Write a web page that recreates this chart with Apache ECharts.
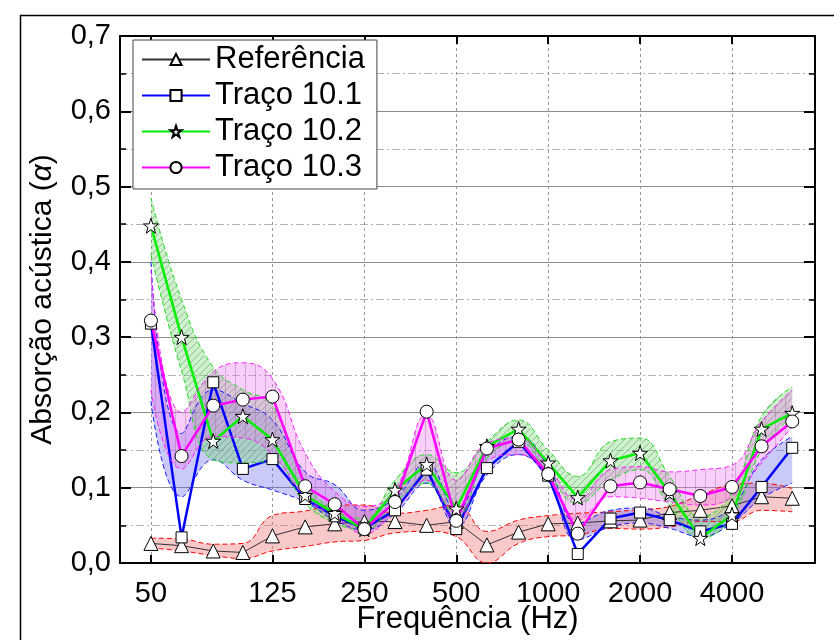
<!DOCTYPE html>
<html>
<head>
<meta charset="utf-8">
<script src="https://cdn.jsdelivr.net/npm/echarts@6/dist/echarts.min.js"></script>
<style>
  html, body { margin: 0; padding: 0; background: #fff; }
  #chart { width: 834px; height: 640px; }
</style>
</head>
<body>
<div id="chart"></div>
<script>
// Third-octave band centre frequencies (Hz)
const freqs = [50, 63, 80, 100, 125, 160, 200, 250, 315, 400, 500, 630, 800, 1000, 1250, 1600, 2000, 2500, 3150, 4000, 5000, 6300];
const tickFreqs = [50, 125, 250, 500, 1000, 2000, 4000];

// Absorption coefficient, mean per band
const refVals = [0.026, 0.023, 0.016, 0.014, 0.036, 0.048, 0.052, 0.055, 0.055, 0.050, 0.055, 0.024, 0.041, 0.052, 0.053, 0.056, 0.057, 0.067, 0.070, 0.076, 0.088, 0.086];
const t101Vals = [0.318, 0.034, 0.240, 0.125, 0.138, 0.085, 0.062, 0.046, 0.070, 0.124, 0.045, 0.126, 0.161, 0.116, 0.012, 0.059, 0.067, 0.057, 0.042, 0.052, 0.101, 0.153];
const t102Vals = [0.448, 0.300, 0.162, 0.195, 0.164, 0.090, 0.066, 0.045, 0.097, 0.131, 0.072, 0.155, 0.178, 0.133, 0.087, 0.136, 0.146, 0.093, 0.033, 0.064, 0.178, 0.199];
const t103Vals = [0.322, 0.142, 0.209, 0.217, 0.221, 0.102, 0.078, 0.045, 0.081, 0.201, 0.056, 0.152, 0.164, 0.118, 0.039, 0.102, 0.107, 0.098, 0.089, 0.101, 0.155, 0.188];

// Dispersion bands (lower / upper bound per band)
const refLow  = [0.020, 0.016, 0.010, 0.006, 0.016, 0.022, 0.028, 0.030, 0.040, 0.042, 0.035, 0.000, 0.026, 0.035, 0.037, 0.046, 0.045, 0.048, 0.055, 0.055, 0.070, 0.068];
const refUp   = [0.033, 0.032, 0.025, 0.026, 0.063, 0.069, 0.077, 0.077, 0.066, 0.070, 0.077, 0.042, 0.057, 0.063, 0.066, 0.068, 0.071, 0.075, 0.090, 0.104, 0.106, 0.099];
const t101Low = [0.215, 0.088, 0.137, 0.110, 0.097, 0.081, 0.057, 0.044, 0.066, 0.106, 0.048, 0.117, 0.144, 0.110, 0.031, 0.048, 0.053, 0.046, 0.035, 0.053, 0.086, 0.106];
const t101Up  = [0.400, 0.172, 0.230, 0.212, 0.190, 0.121, 0.104, 0.070, 0.086, 0.133, 0.070, 0.144, 0.168, 0.128, 0.053, 0.070, 0.073, 0.062, 0.057, 0.075, 0.137, 0.168];
const t102Low = [0.410, 0.255, 0.137, 0.133, 0.135, 0.079, 0.053, 0.044, 0.081, 0.106, 0.062, 0.139, 0.161, 0.119, 0.079, 0.110, 0.124, 0.075, 0.033, 0.062, 0.150, 0.195];
const t102Up  = [0.485, 0.350, 0.260, 0.230, 0.210, 0.108, 0.070, 0.059, 0.110, 0.144, 0.120, 0.161, 0.190, 0.150, 0.115, 0.161, 0.166, 0.115, 0.062, 0.093, 0.195, 0.234];
const t103Low = [0.230, 0.125, 0.168, 0.166, 0.144, 0.088, 0.062, 0.039, 0.070, 0.110, 0.055, 0.135, 0.144, 0.113, 0.057, 0.088, 0.086, 0.081, 0.077, 0.088, 0.133, 0.181];
const t103Up  = [0.390, 0.200, 0.254, 0.266, 0.245, 0.146, 0.095, 0.075, 0.097, 0.197, 0.110, 0.159, 0.166, 0.128, 0.084, 0.124, 0.128, 0.121, 0.124, 0.130, 0.188, 0.230];

const FONT = 'Liberation Sans, Arial, sans-serif';
const X_MIN = 39.6, X_MAX = 7480;

// Small repeating fill tiles for the hatched bands
function tile(bg, stroke, kind) {
  const c = document.createElement('canvas');
  const s = kind === 'vert' ? 10 : 7;
  c.width = s; c.height = s;
  const g = c.getContext('2d');
  g.fillStyle = bg;
  g.fillRect(0, 0, s, s);
  if (kind) {
    g.strokeStyle = stroke;
    g.lineWidth = 1;
    g.beginPath();
    if (kind === 'diag') {
      g.moveTo(0, s); g.lineTo(s, 0);
      g.moveTo(-1, 1); g.lineTo(1, -1);
      g.moveTo(s - 1, s + 1); g.lineTo(s + 1, s - 1);
    } else {
      g.moveTo(s / 2 + 0.5, 0); g.lineTo(s / 2 + 0.5, s);
    }
    g.stroke();
  }
  return { image: c, repeat: 'repeat' };
}

// Rows are [value, frequency] so the value column is the one that gets stacked
function rows(vals) { return freqs.map((f, i) => [vals[i], f]); }

function band(key, low, up, edge, fill) {
  const edgeStyle = { color: edge, type: [5, 3], width: 1 };
  return [
    {
      name: key + '-low', type: 'line', stack: key, stackStrategy: 'all',
      data: rows(low), encode: { x: 1, y: 0 },
      smooth: 0.45, symbol: 'none', silent: true, lineStyle: edgeStyle
    },
    {
      name: key + '-up', type: 'line', stack: key, stackStrategy: 'all',
      data: rows(up.map((u, i) => u - low[i])), encode: { x: 1, y: 0 },
      smooth: 0.45, symbol: 'none', silent: true, lineStyle: edgeStyle,
      areaStyle: { color: fill, opacity: 1 }
    }
  ];
}

function mainLine(name, vals, color, width, symbol, size) {
  return {
    name, type: 'line', data: rows(vals), encode: { x: 1, y: 0 },
    symbol, symbolSize: size, showAllSymbol: true,
    lineStyle: { color, width },
    itemStyle: { color: '#fff', borderColor: '#000', borderWidth: 1 }
  };
}

const STAR = 'path://M50,0 L61.8,35.3 L99,35.3 L69,57.2 L80.4,92.7 L50,70.8 L19.6,92.7 L31,57.2 L1,35.3 L38.2,35.3 Z';

const series = [].concat(
  band('ref', refLow, refUp, '#ff0000', 'rgba(240, 110, 110, 0.38)'),
  [mainLine('Referência', refVals, '#333333', 1, 'triangle', 14)],
  band('t101', t101Low, t101Up, '#1a1aff', 'rgba(90, 90, 240, 0.32)'),
  [mainLine('Traço 10.1', t101Vals, '#0000ff', 2.5, 'rect', 11)],
  band('t102', t102Low, t102Up, '#22dd22', tile('rgba(110, 220, 110, 0.36)', 'rgba(90, 110, 90, 0.45)', 'diag')),
  [mainLine('Traço 10.2', t102Vals, '#00ee00', 2.5, STAR, 15)],
  band('t103', t103Low, t103Up, '#ff22ff', tile('rgba(240, 110, 240, 0.34)', 'rgba(150, 110, 160, 0.40)', 'vert')),
  [mainLine('Traço 10.3', t103Vals, '#ff00ff', 2.5, 'circle', 13)]
);

const axisBlack = { show: true, onZero: false, lineStyle: { color: '#000', width: 2 } };

const option = {
  animation: false,
  backgroundColor: '#fff',
  grid: { left: 120, right: 19, top: 36, bottom: 77, containLabel: false, outerBoundsMode: 'none' },
  legend: {
    data: ['Referência', 'Traço 10.1', 'Traço 10.2', 'Traço 10.3'],
    orient: 'vertical', left: 133, top: 40,
    itemWidth: 68, itemHeight: 14, itemGap: 5,
    padding: [4, 12, 6, 8],
    backgroundColor: '#fff', borderColor: '#444', borderWidth: 1, borderRadius: 0,
    textStyle: { fontSize: 31, fontFamily: FONT, color: '#000' }
  },
  xAxis: [
    {
      type: 'log', logBase: 10, min: X_MIN, max: X_MAX, position: 'bottom',
      name: 'Frequência (Hz)', nameLocation: 'middle', nameGap: 41, nameMoveOverlap: false,
      nameTextStyle: { fontSize: 31, fontFamily: FONT, color: '#000' },
      axisLine: axisBlack,
      axisTick: { show: true, inside: true, length: 8, customValues: tickFreqs, lineStyle: { color: '#000', width: 2 } },
      axisLabel: { show: true, customValues: tickFreqs, margin: 16, fontSize: 29, fontFamily: FONT, color: '#000',
        formatter: v => String(Math.round(v)) },
      splitLine: { show: true, lineStyle: { color: '#9a9a9a', width: 1, type: [3, 3] } },
      minorTick: { show: false }, minorSplitLine: { show: false }
    },
    {
      type: 'log', logBase: 10, min: X_MIN, max: X_MAX, position: 'top',
      axisLine: axisBlack,
      axisTick: { show: true, inside: true, length: 8, customValues: tickFreqs, lineStyle: { color: '#000', width: 2 } },
      axisLabel: { show: false, customValues: tickFreqs },
      splitLine: { show: false }
    }
  ],
  yAxis: [
    {
      type: 'value', min: 0, max: 0.7, interval: 0.1, position: 'left',
      name: 'Absorção acústica ({it|α})', nameLocation: 'middle', nameGap: 62, nameMoveOverlap: false,
      nameTextStyle: { fontSize: 30, fontFamily: FONT, color: '#000',
        rich: { it: { fontSize: 30, fontFamily: FONT, fontStyle: 'italic', color: '#000' } } },
      axisLine: axisBlack,
      axisTick: { show: true, inside: true, length: 11, lineStyle: { color: '#000', width: 2 } },
      minorTick: { show: true, splitNumber: 2, length: 6, lineStyle: { color: '#000', width: 1.5 } },
      axisLabel: { margin: 9, fontSize: 29, fontFamily: FONT, color: '#000',
        formatter: v => v.toFixed(1).replace('.', ',') },
      splitLine: { show: true, lineStyle: { color: '#8c8c8c', width: 1.2, type: 'solid' } },
      minorSplitLine: { show: true, lineStyle: { color: '#b4b4b4', width: 1, type: [8, 3, 2, 3] } }
    },
    {
      type: 'value', min: 0, max: 0.7, interval: 0.1, position: 'right',
      axisLine: axisBlack,
      axisTick: { show: true, inside: true, length: 11, lineStyle: { color: '#000', width: 2 } },
      minorTick: { show: true, splitNumber: 2, length: 6, lineStyle: { color: '#000', width: 1.5 } },
      axisLabel: { show: false },
      splitLine: { show: false }
    }
  ],
  graphic: [
    {
      type: 'rect', left: 18, top: 13, silent: true, z: 100,
      shape: { width: 830, height: 640 },
      style: { fill: 'none', stroke: '#000', lineWidth: 1.5 }
    }
  ],
  series
};

const chart = echarts.init(document.getElementById('chart'), null, { renderer: 'canvas' });
chart.setOption(option);
</script>
</body>
</html>
